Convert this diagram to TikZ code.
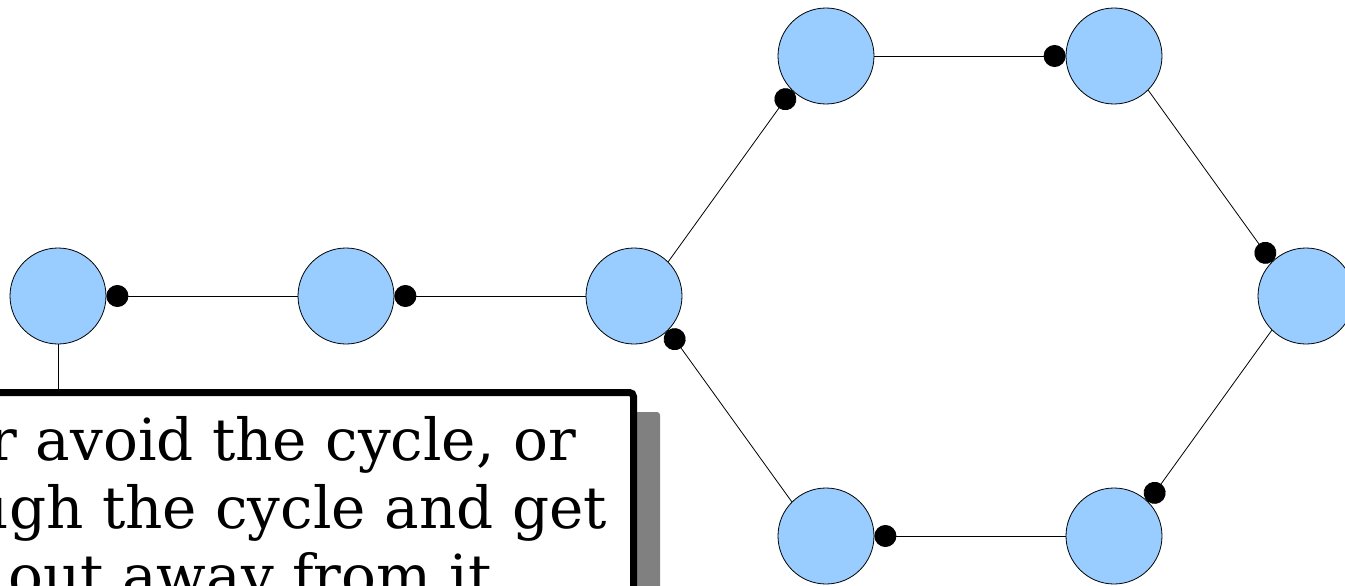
\documentclass[tikz,border=0pt]{standalone}
\usepackage{fontspec}
\setmainfont{DejaVu Serif}
\usetikzlibrary{arrows.meta}
\definecolor{nodeblue}{HTML}{99CCFF}
\definecolor{shadowgray}{HTML}{808080}
\tikzset{
  vert/.style={circle, draw=black, line width=0.8pt, fill=nodeblue, minimum size=96pt, inner sep=0pt},
  conn/.style={draw=black, line width=0.8pt, {Circle[length=22pt,width=22pt]}-},
  plain/.style={draw=black, line width=0.8pt},
  notebox/.style={draw=black, fill=white, line width=7pt, rounded corners=4pt},
  noteshadow/.style={fill=shadowgray, rounded corners=3pt},
  notetext/.style={anchor=base east, inner sep=0pt, font=\fontsize{58}{68}\selectfont}
}
\begin{document}
\begin{tikzpicture}[x=1pt,y=-1pt]
\useasboundingbox (0,0) rectangle (1345,586);
\clip (0,0) rectangle (1345,586);
% nodes
\node[vert] (n1) at (58,296) {};
\node[vert] (n2) at (346,296) {};
\node[vert] (n3) at (634,296) {};
\node[vert] (n4) at (826,56) {};
\node[vert] (n5) at (1114,56) {};
\node[vert] (n6) at (1306,296) {};
\node[vert] (n7) at (1114,536) {};
\node[vert] (n8) at (826,536) {};
% connectors
\draw[conn] (n1.east) -- (n2.west);
\draw[conn] (n2.east) -- (n3.west);
\draw[conn] (n4.south west) -- (n3.north east);
\draw[conn] (n5.west) -- (n4.east);
\draw[conn] (n6.north west) -- (n5.south east);
\draw[conn] (n7.north east) -- (n6.south west);
\draw[conn] (n8.east) -- (n7.west);
\draw[conn] (n3.south east) -- (n8.north west);
% note box
\coordinate (boxtop) at (58,392.5);
\draw[plain] (n1.south) -- (boxtop);
\path[noteshadow] (-100,412) rectangle (660,700);
\path[notebox] (-100,392.5) rectangle (633.5,700);
\node[notetext] (t1) at (576,460) {r avoid the cycle, or};
\node[notetext] (t2) at (607,528) {ugh the cycle and get};
\node[notetext] (t3) at (492,596) {out away from it};
\end{tikzpicture}
\end{document}
